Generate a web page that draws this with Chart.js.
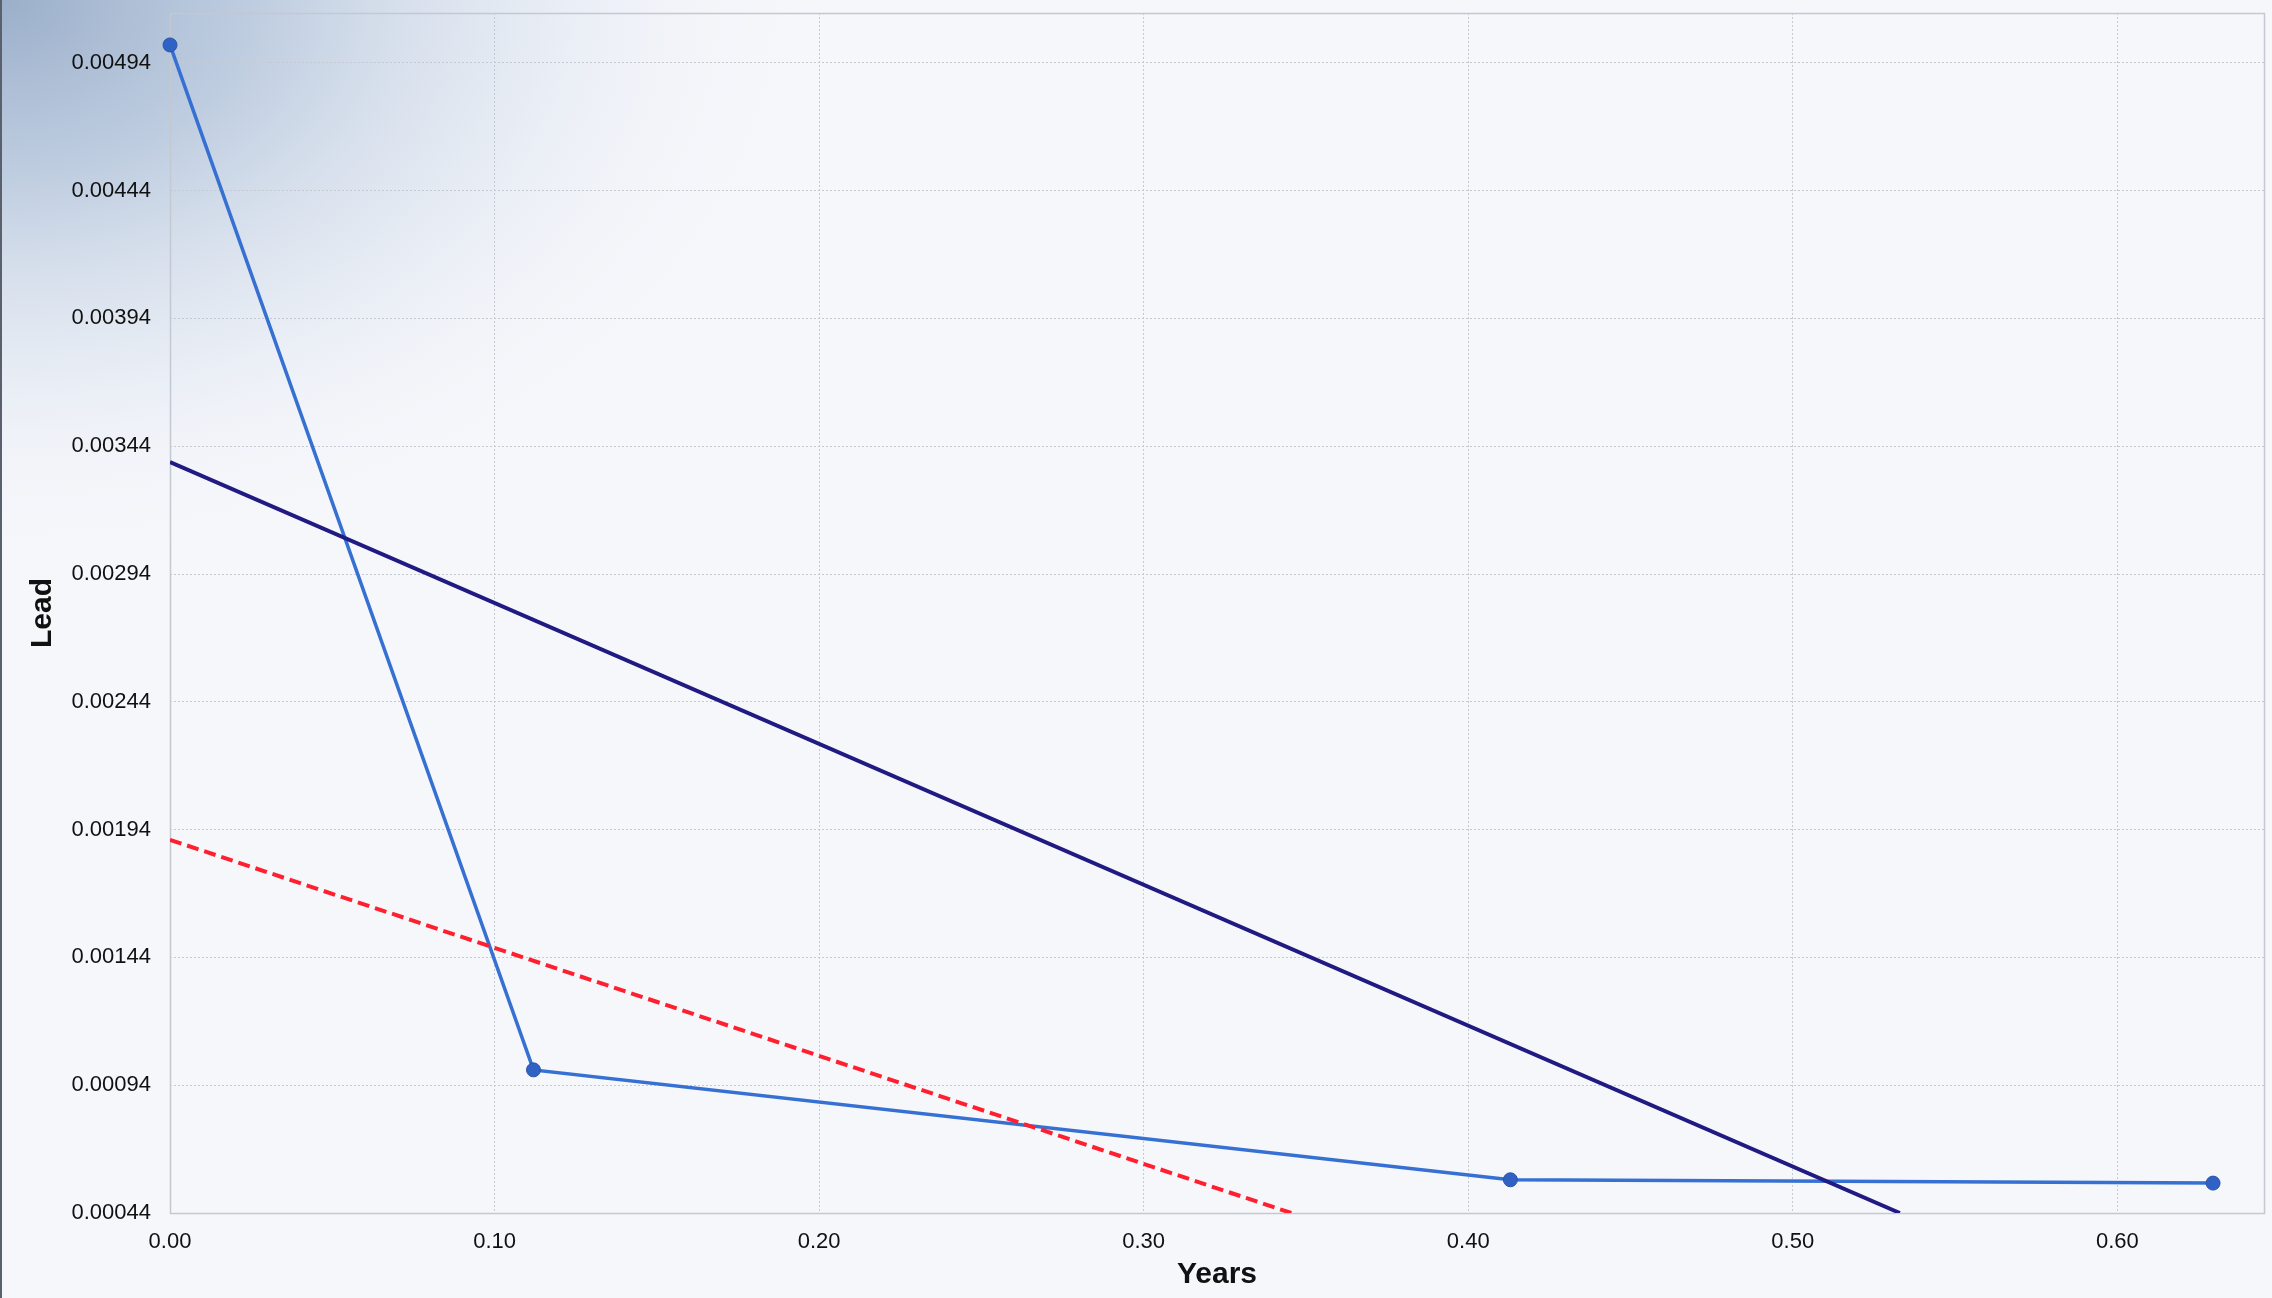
<!DOCTYPE html>
<html>
<head>
<meta charset="utf-8">
<title>Lead</title>
<script src="https://cdn.jsdelivr.net/npm/chart.js@4.4.1/dist/chart.umd.min.js"></script>
<style>
  html, body { margin: 0; padding: 0; background: #f6f7fb; overflow: hidden; }
</style>
</head>
<body>
<canvas id="leadChart" width="2272" height="1298"></canvas>
<script>
// measured lead over time
const years = [0.000, 0.112, 0.413, 0.6295];
const lead = [0.00501, 0.00100, 0.00057, 0.000557];

// solid trend line and dashed lower line, start and end points
const trendYears = [0.000, 0.533];
const trendLead = [0.003378, 0.00044];
const lowerYears = [0.000, 0.3455];
const lowerLead = [0.00190, 0.00044];

const xTicks = [0.0, 0.1, 0.2, 0.3, 0.4, 0.5, 0.6];
const yTicks = [0.00044, 0.00094, 0.00144, 0.00194, 0.00244, 0.00294, 0.00344, 0.00394, 0.00444, 0.00494];

const toPoints = (xs, ys) => xs.map((x, i) => ({ x: x, y: ys[i] }));

// blue-grey glow in the top left corner over a pale background
const backdrop = {
  id: 'backdrop',
  beforeDraw(chart) {
    const { ctx, width, height } = chart;
    ctx.save();
    ctx.fillStyle = '#f6f7fb';
    ctx.fillRect(0, 0, width, height);
    ctx.scale(1.45, 1);
    const g = ctx.createRadialGradient(0, 0, 0, 0, 0, 580);
    g.addColorStop(0, 'rgba(155,175,202,1)');
    g.addColorStop(0.3, 'rgba(184,200,221,0.9)');
    g.addColorStop(0.65, 'rgba(220,228,239,0.55)');
    g.addColorStop(1, 'rgba(246,247,251,0)');
    ctx.fillStyle = g;
    ctx.fillRect(0, 0, width, height);
    ctx.restore();
    ctx.fillStyle = '#5a616c';
    ctx.fillRect(0, 0, 2, height);
  }
};

// thin frame round the plot area
const plotFrame = {
  id: 'plotFrame',
  beforeDatasetsDraw(chart) {
    const { ctx, chartArea: a } = chart;
    ctx.save();
    ctx.strokeStyle = '#c3c8d1';
    ctx.lineWidth = 1.5;
    ctx.strokeRect(a.left + 0.5, a.top + 0.5, a.right - a.left, a.bottom - a.top);
    ctx.restore();
  }
};

// keep the plot box where the layout padding puts it
const noEdgePadding = (scale) => {
  scale.paddingTop = 0;
  scale.paddingBottom = 0;
  scale.paddingLeft = 0;
  scale.paddingRight = 0;
};

const tickFont = { family: '"Liberation Sans", Arial, sans-serif', size: 22 };
const titleFont = { family: '"Liberation Sans", Arial, sans-serif', size: 30, weight: 'bold' };
const gridStyle = { color: '#c4c9d2', lineWidth: 1, drawTicks: false };

new Chart(document.getElementById('leadChart'), {
  type: 'scatter',
  data: {
    datasets: [
      {
        label: 'Trend',
        data: toPoints(trendYears, trendLead),
        showLine: true,
        borderColor: '#201a82',
        borderWidth: 4,
        pointRadius: 0
      },
      {
        label: 'Lower',
        data: toPoints(lowerYears, lowerLead),
        showLine: true,
        borderColor: '#ff1f2f',
        borderWidth: 4,
        borderDash: [12, 6],
        pointRadius: 0
      },
      {
        label: 'Lead',
        data: toPoints(years, lead),
        showLine: true,
        clip: false,
        borderColor: '#3670d2',
        borderWidth: 3.5,
        pointRadius: 7,
        pointBackgroundColor: '#2f62c4',
        pointBorderColor: '#2a55a8',
        pointBorderWidth: 1
      }
    ]
  },
  options: {
    responsive: false,
    animation: false,
    devicePixelRatio: 1,
    layout: { padding: { top: 13, right: 5, left: 0, bottom: 0 } },
    plugins: {
      legend: { display: false },
      tooltip: { enabled: false }
    },
    scales: {
      x: {
        type: 'linear',
        min: 0,
        max: 0.6452,
        afterBuildTicks: (scale) => { scale.ticks = xTicks.map(v => ({ value: v })); },
        afterFit: (scale) => { scale.height = 85; noEdgePadding(scale); },
        grid: gridStyle,
        border: { display: false, dash: [2, 2] },
        ticks: {
          color: '#111',
          font: tickFont,
          padding: 16,
          maxRotation: 0,
          callback: (v) => Number(v).toFixed(2)
        },
        title: {
          display: true,
          text: 'Years',
          color: '#111',
          font: titleFont,
          padding: { top: 0, bottom: 5 }
        }
      },
      y: {
        type: 'linear',
        min: 0.00044,
        max: 0.005135,
        afterBuildTicks: (scale) => { scale.ticks = yTicks.map(v => ({ value: v })); },
        afterFit: (scale) => { scale.width = 170; noEdgePadding(scale); },
        grid: gridStyle,
        border: { display: false, dash: [2, 2] },
        ticks: {
          color: '#111',
          font: tickFont,
          padding: 19,
          callback: (v) => Number(v).toFixed(5)
        },
        title: {
          display: true,
          text: 'Lead',
          color: '#111',
          font: titleFont,
          padding: { top: 25, bottom: 0 }
        }
      }
    }
  },
  plugins: [backdrop, plotFrame]
});
</script>
</body>
</html>
